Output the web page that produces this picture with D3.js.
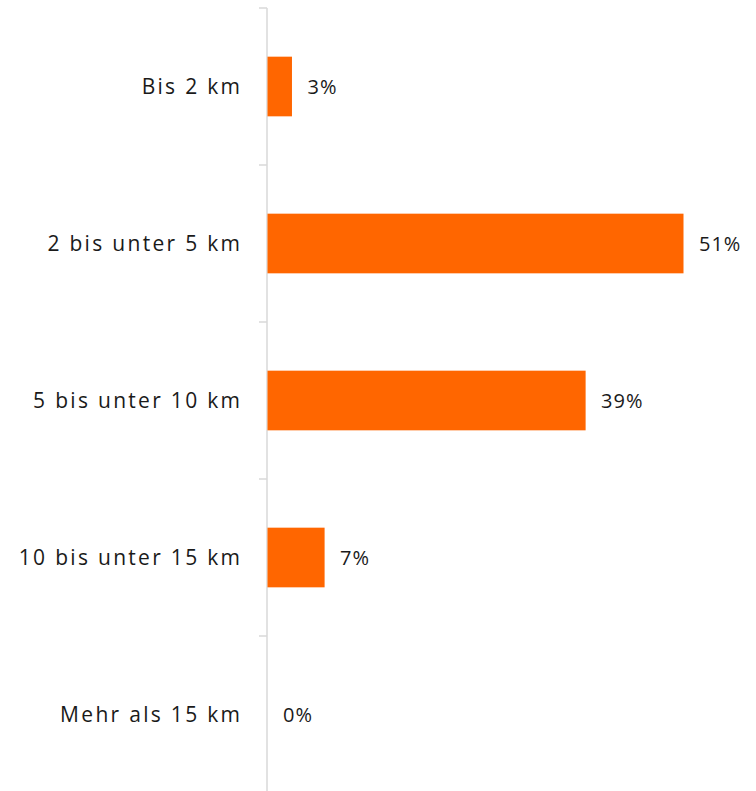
<!DOCTYPE html>
<html>
<head>
<meta charset="utf-8">
<script src="https://cdn.jsdelivr.net/npm/d3@7"></script>
<style>
  body { margin: 0; background: #fff; }
  text { font-family: "Open Sans", sans-serif; }
</style>
</head>
<body>
<div id="chart"></div>
<script>
const categories = ['Bis 2 km', '2 bis unter 5 km', '5 bis unter 10 km', '10 bis unter 15 km', 'Mehr als 15 km'];
const values = [3, 51, 39, 7, 0];

const width = 756, height = 791;
const left = 267;

const svg = d3.select('#chart').append('svg')
    .attr('width', width)
    .attr('height', height);

const y = d3.scaleBand().domain(categories).range([8, 793]).paddingInner(0).paddingOuter(0);
const x = d3.scaleLinear().domain([0, 60]).range([left, left + 60 * 416 / 51]);

const barH = y.bandwidth() * 0.38;

// axis line + ticks
svg.append('line')
    .attr('x1', left).attr('x2', left)
    .attr('y1', 8).attr('y2', 793)
    .attr('stroke', '#d9d9d9').attr('stroke-width', 1.5);

const ticks = categories.map(c => y(c));
svg.selectAll('.tick').data(ticks).enter().append('line')
    .attr('x1', left - 8).attr('x2', left)
    .attr('y1', d => d).attr('y2', d => d)
    .attr('stroke', '#d9d9d9').attr('stroke-width', 1.5);

svg.append('g').selectAll('rect').data(values).enter().append('rect')
    .attr('x', x(0) + 0.5)
    .attr('y', (d, i) => y(categories[i]) + (y.bandwidth() - barH) / 2)
    .attr('width', d => x(d) - x(0))
    .attr('height', barH)
    .attr('fill', '#ff6600');

svg.append('g').selectAll('text').data(categories).enter().append('text')
    .attr('x', left - 27 + 2.3)
    .attr('y', d => y(d) + y.bandwidth() / 2)
    .attr('dy', '0.35em')
    .attr('text-anchor', 'end')
    .attr('font-size', 21)
    .attr('letter-spacing', 2.3)
    .attr('fill', '#1a1a1a')
    .text(d => d);

svg.append('g').selectAll('text').data(values).enter().append('text')
    .attr('x', d => x(d) + 16)
    .attr('y', (d, i) => y(categories[i]) + y.bandwidth() / 2)
    .attr('dy', '0.35em')
    .attr('font-size', 20)
    .attr('letter-spacing', 1)
    .attr('fill', '#1a1a1a')
    .text(d => d + '%');
</script>
</body>
</html>
